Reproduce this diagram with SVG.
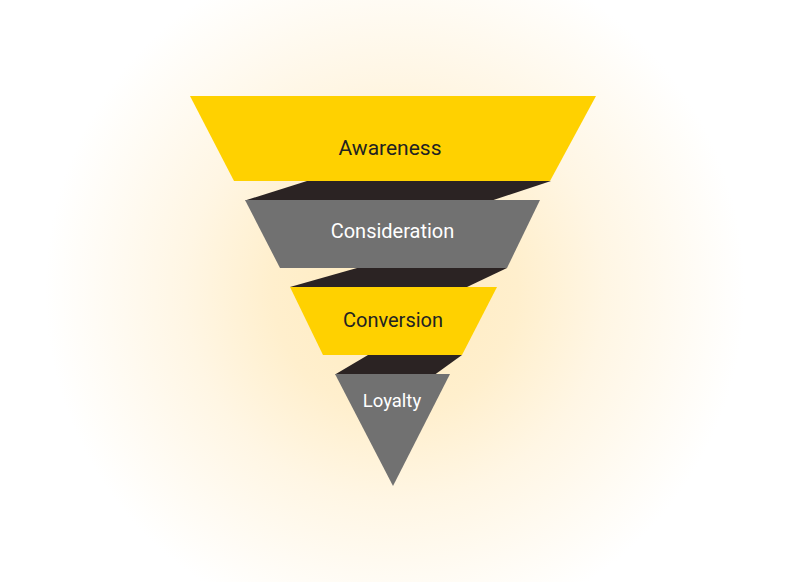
<svg xmlns="http://www.w3.org/2000/svg" width="786" height="582" viewBox="0 0 786 582">
<defs>
<radialGradient id="glow" gradientUnits="userSpaceOnUse" cx="395" cy="290" r="350">
<stop offset="0" stop-color="#FFEBBE"/>
<stop offset="0.35" stop-color="#FFEFCD"/>
<stop offset="0.6" stop-color="#FFF6E4"/>
<stop offset="0.82" stop-color="#FFFBF3"/>
<stop offset="1" stop-color="#FFFFFF"/>
</radialGradient>
<style>
.yellow{fill:#FFD100}
.gray{fill:#717171}
.band{fill:#2B2323}
.lbl{font-family:Roboto,"Open Sans","Liberation Sans",sans-serif;text-anchor:middle}
.dark{fill:#222222}
.light{fill:#FFFFFF}
</style>
</defs>
<rect x="0" y="0" width="786" height="582" fill="url(#glow)"/>
<g id="connectors">
<polygon class="band" points="307,181 551,181 492,200.5 245,200.5"/>
<polygon class="band" points="357,268 507,268 467,287 290,287"/>
<polygon class="band" points="368,355 462,355 435,374.5 335,374.5"/>
</g>
<g id="awareness">
<polygon class="yellow" points="190,96 596,96 550,181 234,181"/>
<text class="lbl dark" x="390" y="155" font-size="21">Awareness</text>
</g>
<g id="consideration">
<polygon class="gray" points="245,200 540,200 507,268 280,268"/>
<text class="lbl light" x="392.5" y="238" font-size="20">Consideration</text>
</g>
<g id="conversion">
<polygon class="yellow" points="290,287 497,287 462,355 323,355"/>
<text class="lbl dark" x="393" y="327" font-size="20">Conversion</text>
</g>
<g id="loyalty">
<polygon class="gray" points="335,374 450,374 393,486"/>
<text class="lbl light" x="392" y="406.5" font-size="18.5">Loyalty</text>
</g>
</svg>
